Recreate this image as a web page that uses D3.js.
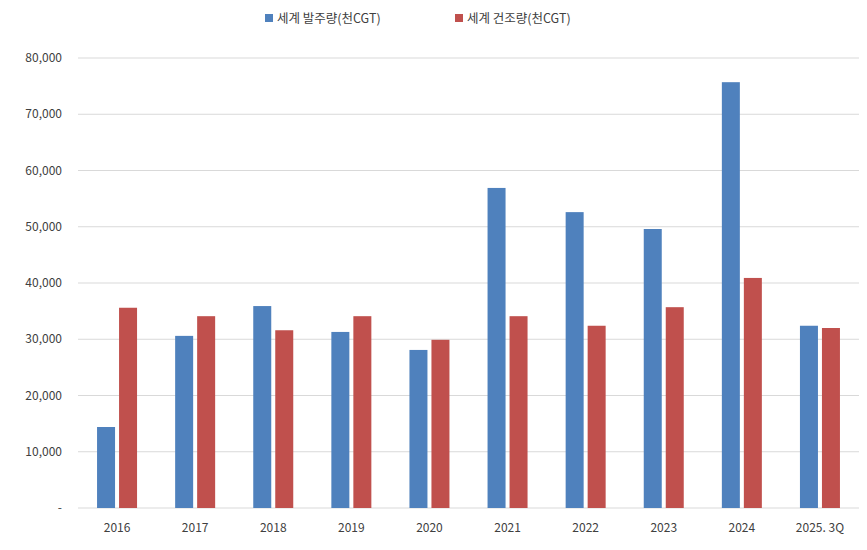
<!DOCTYPE html>
<html><head><meta charset="utf-8">
<script src="https://cdn.jsdelivr.net/npm/d3@7"></script>
<style>body{margin:0;background:#fff;font-family:"Noto Sans CJK KR",sans-serif;}</style>
</head><body><div id="wrapper"></div>
<script>
const categories = ["2016","2017","2018","2019","2020","2021","2022","2023","2024","2025. 3Q"];
const orders = [14400,30600,35900,31300,28100,56900,52600,49600,75700,32400];
const builds = [35600,34100,31600,34100,29900,34100,32400,35700,40900,32000];
const seriesNames = ["세계 발주량(천CGT)","세계 건조량(천CGT)"];
const colors = ["#4f81bd","#c0504d"];
const yTicks = [0,10000,20000,30000,40000,50000,60000,70000,80000];

const width = 867, height = 550;
const margin = {left: 78, right: 8, top: 58, bottom: 42};
const svg = d3.select("#wrapper").append("svg").attr("width", width).attr("height", height);

const x = d3.scaleBand().domain(categories).range([margin.left, width - margin.right]);
const y = d3.scaleLinear().domain([0, 80000]).range([height - margin.bottom, margin.top]);

// grid
svg.append("g").selectAll("line").data(yTicks).join("line")
    .attr("x1", margin.left).attr("x2", width - margin.right)
    .attr("y1", d => y(d)).attr("y2", d => y(d))
    .attr("stroke", "#d9d9d9").attr("stroke-width", 1);

const fmt = d3.format(",");
svg.append("g").selectAll("text").data(yTicks).join("text")
    .attr("x", 62).attr("y", d => y(d) + 4).attr("text-anchor", "end")
    .style("font-size", "12px").attr("fill", "#404040")
    .text(d => d === 0 ? "-" : fmt(d));

svg.append("g").selectAll("text").data(categories).join("text")
    .attr("x", d => x(d) + x.bandwidth() / 2).attr("y", height - margin.bottom + 24)
    .attr("text-anchor", "middle").style("font-size", "12px").attr("fill", "#404040")
    .text(d => d);

const barW = 18;
[orders, builds].forEach((vals, s) => {
    svg.append("g").selectAll("rect").data(vals).join("rect")
        .attr("x", (d, i) => x(categories[i]) + x.bandwidth() / 2 + (s === 0 ? -barW - 2 : 2))
        .attr("width", barW)
        .attr("y", d => y(d))
        .attr("height", d => y(0) - y(d))
        .attr("fill", colors[s]);
});

// legend
const legend = svg.append("g");
const lx = [265, 455];
seriesNames.forEach((n, i) => {
    legend.append("rect").attr("x", lx[i]).attr("y", 14).attr("width", 8).attr("height", 8).attr("fill", colors[i]);
    legend.append("text").attr("x", lx[i] + 12).attr("y", 23).style("font-size", "12.5px")
        .attr("fill", "#404040").text(n);
});
</script></body></html>
